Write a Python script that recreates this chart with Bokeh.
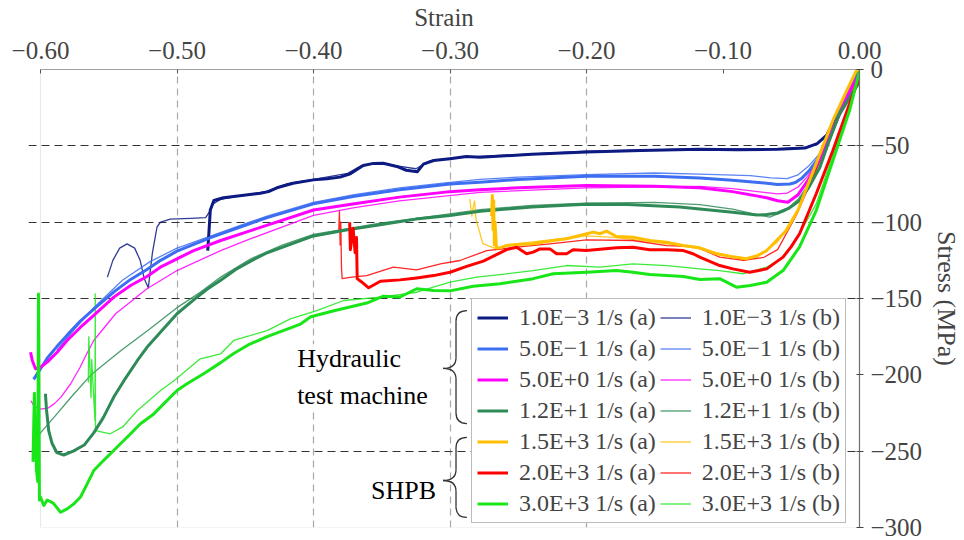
from bokeh.plotting import figure
from bokeh.models import Range1d, FixedTicker, Legend, LegendItem, Label, BoxAnnotation
from bokeh.embed import file_html
from bokeh.resources import INLINE

FONT = "Liberation Serif"

# ---------------- axes ----------------
x_ticks = [-0.6, -0.5, -0.4, -0.3, -0.2, -0.1, 0.0]
x_tick_labels = ["\u22120.60", "\u22120.50", "\u22120.40", "\u22120.30", "\u22120.20", "\u22120.10", "0.00"]
y_ticks = [0, -50, -100, -150, -200, -250, -300]
y_tick_labels = ["0", "\u221250", "\u2212100", "\u2212150", "\u2212200", "\u2212250", "\u2212300"]

# ---------------- data (strain, stress MPa) ----------------
# 1.0E-3 1/s
strain_1e3_a = [0.0, -0.005, -0.015, -0.024, -0.031, -0.04, -0.06, -0.09, -0.117, -0.16, -0.2, -0.24, -0.278, -0.288,
                -0.300, -0.312, -0.3195, -0.324, -0.332, -0.339, -0.349, -0.356, -0.3636, -0.373, -0.3805, -0.39, -0.40,
                -0.415, -0.4268, -0.433, -0.439, -0.4585, -0.466, -0.473, -0.4756, -0.4765, -0.4775]
stress_1e3_a = [-1, -9, -27, -43, -48.5, -51.5, -52.3, -52.5, -52.3, -53, -54, -55.5, -57.5, -57,
                -58.5, -59.6, -62, -67, -66, -63.5, -61.4, -61.5, -62.9, -68.3, -70.5, -71.5, -72.3,
                -74.5, -77.5, -80, -81, -83.2, -84, -85.8, -92, -105, -118.6]
strain_1e3_b = [0.0, -0.005, -0.015, -0.024, -0.031, -0.04, -0.06, -0.117, -0.2, -0.278, -0.30, -0.315, -0.325, -0.34,
                -0.35, -0.365, -0.375, -0.40, -0.42, -0.435, -0.455, -0.468, -0.4735, -0.476, -0.479, -0.49, -0.505,
                -0.512, -0.5146, -0.516, -0.518, -0.52, -0.521, -0.524, -0.527, -0.531, -0.5366, -0.542, -0.547, -0.551]
stress_1e3_b = [-1, -9, -27, -43, -48.5, -51, -52, -52, -53.5, -57, -58, -60, -65, -63,
                -61, -63, -68, -72, -75, -80, -83, -85, -88, -93, -97, -97.5, -98,
                -100, -103, -110, -120, -135, -143, -137, -125, -117, -114.2, -117, -125, -136]
# 5.0E-1 1/s
strain_5e1_a = [0.0, -0.005, -0.012, -0.022, -0.03, -0.0366, -0.042, -0.047, -0.051, -0.06, -0.068, -0.093, -0.117,
                -0.15, -0.2, -0.25, -0.278, -0.30, -0.337, -0.37, -0.40, -0.434, -0.45, -0.475, -0.50, -0.512, -0.522,
                -0.534, -0.546, -0.561, -0.571, -0.58, -0.588, -0.595, -0.6, -0.605]
stress_5e1_a = [-2, -8, -22, -46, -58, -66, -71, -74, -75, -75.3, -74.5, -72.5, -71,
                -70, -70, -72, -73.8, -75, -78.8, -83, -88, -97, -102, -110, -119, -125, -131,
                -137.5, -145.5, -157, -165, -173.5, -181.5, -189, -196, -203]
strain_5e1_b = [0.0, -0.005, -0.012, -0.022, -0.03, -0.037, -0.045, -0.053, -0.065, -0.08, -0.117, -0.15, -0.2,
                -0.25, -0.278, -0.30, -0.337, -0.37, -0.40, -0.434, -0.45, -0.475, -0.50, -0.52, -0.54, -0.561,
                -0.575, -0.588]
stress_5e1_b = [-1, -7, -21, -44, -56, -63, -69, -71.5, -71, -69.5, -68.5, -67.8, -68.8,
                -70.5, -72, -74, -77.5, -82, -87, -96, -101, -109, -117, -126, -138, -156,
                -170, -184]
# 5.0E+0 1/s
strain_5e0_a = [0.0, -0.006, -0.02, -0.03, -0.038, -0.045, -0.0525, -0.06, -0.068, -0.093, -0.117, -0.15, -0.2,
                -0.25, -0.278, -0.30, -0.337, -0.37, -0.40, -0.446, -0.468, -0.4878, -0.5, -0.5122, -0.522, -0.534,
                -0.5463, -0.561, -0.5707, -0.5805, -0.5878, -0.5951, -0.6, -0.6037, -0.606, -0.6073]
stress_5e0_a = [-3, -12, -40, -60, -73, -82, -87, -86, -84, -80, -77.5, -76.5, -76,
                -77.5, -78.8, -80, -83.6, -88, -92, -105.5, -112, -118.6, -124, -129.5, -135.6, -141.5,
                -149.1, -161.1, -168.8, -177.5, -185.2, -191.7, -195, -196, -190.6, -185.2]
strain_5e0_b = [0.0, -0.006, -0.02, -0.03, -0.038, -0.045, -0.053, -0.06, -0.07, -0.093, -0.117, -0.2, -0.278,
                -0.337, -0.37, -0.40, -0.446, -0.468, -0.50, -0.522, -0.545, -0.561, -0.566, -0.571, -0.578, -0.585,
                -0.59, -0.595, -0.601, -0.605, -0.607]
stress_5e0_b = [-2, -11, -40, -58, -70, -77, -81, -81.5, -80.5, -78, -76.5, -77.5, -80.5,
                -86, -90.5, -95.5, -110.8, -118.6, -131.7, -143.6, -160, -177.5, -186, -195, -206, -214.6,
                -219, -222, -222.5, -220, -217]
# 1.2E+1 1/s
strain_12e1_a = [0.0, -0.005, -0.0146, -0.022, -0.029, -0.037, -0.044, -0.052, -0.06, -0.068, -0.075, -0.093,
                 -0.117, -0.1317, -0.17, -0.2, -0.24, -0.278, -0.30, -0.325, -0.35, -0.375, -0.40, -0.42, -0.435,
                 -0.446, -0.457, -0.468, -0.478, -0.488, -0.5, -0.512, -0.522, -0.529, -0.539, -0.546, -0.554,
                 -0.561, -0.568, -0.576, -0.583, -0.588, -0.5915, -0.594, -0.5956, -0.5964]
stress_12e1_a = [-8, -15, -29, -46, -64, -77, -86, -91, -94, -95, -95.3, -93.5,
                 -91.3, -90, -88.5, -88.2, -90, -92.8, -95.6, -98, -101.5, -105, -109, -115.5, -120.5,
                 -125.5, -131, -138, -144, -151, -160, -172, -182, -190.6, -204, -214, -228,
                 -238, -246, -250, -252.5, -251, -245, -236.5, -223, -212.4]
strain_12e1_b = [0.0, -0.005, -0.015, -0.022, -0.03, -0.038, -0.045, -0.055, -0.066, -0.075, -0.093, -0.117,
                 -0.15, -0.2, -0.24, -0.278, -0.30, -0.35, -0.40, -0.423, -0.446, -0.468, -0.483, -0.5, -0.52,
                 -0.541, -0.563, -0.577, -0.590, -0.6, -0.604]
stress_12e1_b = [-9, -16, -31, -46, -62, -76, -85, -93, -96.7, -95, -91.5, -88.5,
                 -87, -87.5, -89, -91.8, -94.5, -100.5, -108, -115, -124, -136, -146, -156, -170,
                 -184, -200, -214, -227.7, -238, -245]
# 1.5E+3 1/s
strain_15e3_a = [0.0, -0.0024, -0.01, -0.0195, -0.028, -0.0366, -0.045, -0.0536, -0.068, -0.075, -0.083, -0.094,
                 -0.1049, -0.1171, -0.1293, -0.1414, -0.1537, -0.1659, -0.178, -0.1853, -0.1902, -0.1951, -0.2049,
                 -0.2146, -0.2244, -0.239, -0.2512, -0.2585, -0.2634, -0.266, -0.267, -0.2675, -0.268, -0.2685,
                 -0.269, -0.2695]
stress_15e3_a = [-1, -1, -15, -33.4, -53, -72.7, -92, -105.5, -118.6, -122, -124, -122.5,
                 -120.7, -116.8, -115.3, -113.1, -112, -109.8, -109.4, -105.9, -107.6, -106.5, -108.7,
                 -110.9, -112, -114.2, -114.6, -115.3, -116.8, -117, -100, -115, -86, -105,
                 -82.5, -96]
strain_15e3_b = [0.0, -0.002, -0.015, -0.03, -0.045, -0.06, -0.075, -0.085, -0.1, -0.12, -0.15, -0.18, -0.2,
                 -0.23, -0.25, -0.266, -0.276, -0.281, -0.282, -0.2835, -0.284, -0.2855]
stress_15e3_b = [-1, -1, -26, -60, -92, -113, -123, -125, -121, -117, -113, -110, -109,
                 -112, -114, -117.5, -114, -98, -86, -92, -96, -84.7]
# 2.0E+3 1/s
strain_2e3_a = [0.0, -0.0073, -0.0195, -0.0317, -0.0439, -0.05, -0.056, -0.068, -0.0805, -0.0927, -0.1024,
                -0.117, -0.122, -0.129, -0.1414, -0.1537, -0.1659, -0.178, -0.2, -0.2098, -0.2146, -0.2219,
                -0.2268, -0.2341, -0.239, -0.2439, -0.2512, -0.2585, -0.2756, -0.2878, -0.30, -0.312, -0.3244,
                -0.3366, -0.351, -0.3596, -0.365, -0.368, -0.3685, -0.3695, -0.371, -0.373, -0.3735]
stress_2e3_a = [-5, -22.5, -53, -81.4, -107.6, -116, -122.9, -130.6, -132.8, -130.6, -128.4,
                -122.9, -120.7, -118.6, -118, -118, -116.4, -116.8, -118.6, -118.1, -120.7, -120.7,
                -117.5, -117.5, -119.6, -120.7, -116.4, -118, -125.5, -129, -132.8, -135, -136.5,
                -137.8, -138.7, -143, -139, -137, -110, -120, -104, -118, -100]
strain_2e3_b = [0.0, -0.008, -0.015, -0.03, -0.046, -0.06, -0.07, -0.085, -0.1024, -0.12, -0.1414, -0.166,
                -0.2, -0.2268, -0.251, -0.273, -0.2927, -0.307, -0.3244, -0.3415, -0.361, -0.372, -0.379,
                -0.3795, -0.380, -0.3805, -0.381, -0.3815]
stress_2e3_b = [-3, -18, -30, -62, -95, -118, -123, -125, -122.9, -116, -115.3, -112,
                -111.6, -114.2, -116.4, -118.6, -125.1, -127.3, -131.2, -129.5, -135, -136, -137,
                -130, -100, -115, -93, -105]
# 3.0E+3 1/s
strain_3e3_a = [0.0, -0.0073, -0.0195, -0.0317, -0.044, -0.056, -0.068, -0.08, -0.0902, -0.1024, -0.117, -0.129,
                -0.1537, -0.166, -0.178, -0.2, -0.2244, -0.239, -0.2634, -0.283, -0.30, -0.312, -0.3244, -0.3366,
                -0.3488, -0.361, -0.385, -0.402, -0.41, -0.434, -0.447, -0.4585, -0.468, -0.4805, -0.4927, -0.5,
                -0.5098, -0.517, -0.5268, -0.534, -0.5464, -0.5537, -0.561, -0.5658, -0.5707, -0.5756, -0.5805,
                -0.5853, -0.5902, -0.5927, -0.5951, -0.5976, -0.6, -0.6008, -0.6015, -0.602, -0.603, -0.6045,
                -0.6055]
stress_3e3_a = [-1, -26.9, -59.6, -92.4, -116.4, -131.7, -139.3, -141.5, -142.6, -137, -137.5, -135.6,
                -134.3, -132.8, -131.7, -132.8, -133.8, -137, -140.4, -142, -145, -144.8, -143.6, -149,
                -148.5, -153, -158, -162, -167, -175, -180, -186, -192, -199.3, -205.9, -210.3,
                -219, -225.6, -232, -238.6, -249.6, -256, -262.7, -271.4, -280, -284.5, -287.8,
                -290, -284.5, -283, -282, -285.6, -280, -282, -147, -270, -262, -212, -257]
strain_3e3_b = [0.0, -0.0073, -0.0195, -0.0317, -0.044, -0.05, -0.056, -0.068, -0.0854, -0.1024, -0.117, -0.141,
                -0.166, -0.19, -0.2146, -0.239, -0.26, -0.2805, -0.30, -0.3244, -0.3488, -0.378, -0.3976, -0.417,
                -0.434, -0.4585, -0.468, -0.483, -0.502, -0.512, -0.529, -0.54, -0.549, -0.5597, -0.5599, -0.5601,
                -0.5625, -0.563, -0.5646, -0.565]
stress_3e3_b = [-1, -24, -56, -88, -107.6, -116, -123, -129.5, -133.8, -131.7, -130.6, -128.5,
                -127.3, -129.5, -128.4, -131.7, -134, -136, -139.3, -145.9, -149, -151.3, -157.9, -163.3,
                -171, -177.5, -186.2, -189.5, -203.7, -210.3, -223.4, -234.3, -238.6, -236.5, -147, -230,
                -190, -215, -175, -205]

rates = ["1.0E\u22123", "5.0E\u22121", "5.0E+0", "1.2E+1", "1.5E+3", "2.0E+3", "3.0E+3"]
colors = ["#0c1a82", "#3d6ef2", "#ff00ff", "#2e8b57", "#ffbf00", "#ff0000", "#19e619"]
series_a = [(strain_1e3_a, stress_1e3_a), (strain_5e1_a, stress_5e1_a), (strain_5e0_a, stress_5e0_a),
            (strain_12e1_a, stress_12e1_a), (strain_15e3_a, stress_15e3_a), (strain_2e3_a, stress_2e3_a),
            (strain_3e3_a, stress_3e3_a)]
series_b = [(strain_1e3_b, stress_1e3_b), (strain_5e1_b, stress_5e1_b), (strain_5e0_b, stress_5e0_b),
            (strain_12e1_b, stress_12e1_b), (strain_15e3_b, stress_15e3_b), (strain_2e3_b, stress_2e3_b),
            (strain_3e3_b, stress_3e3_b)]

# ---------------- figure ----------------
p = figure(width=964, height=540, x_range=Range1d(-0.6088, 0.0), y_range=Range1d(-300, 0),
           x_axis_location="above", y_axis_location="right",
           output_backend="svg", toolbar_location=None,
           min_border_left=28, min_border_right=104, min_border_top=69, min_border_bottom=13)
p.outline_line_color = None
p.background_fill_color = "white"
p.border_fill_color = "white"

p.add_layout(BoxAnnotation(left=-0.6, right=0.0, bottom=-300, top=0, fill_alpha=0,
                           line_color="#b5b5b5", line_width=1.2, level="underlay"))

xa = p.xaxis[0]
xa.ticker = FixedTicker(ticks=x_ticks)
xa.major_label_overrides = dict(zip(x_ticks, x_tick_labels))
xa.bounds = (-0.6, 0.0)
xa.axis_label = "Strain"
xa.axis_label_text_font = FONT
xa.axis_label_text_font_style = "normal"
xa.axis_label_text_font_size = "25px"
xa.axis_label_standoff = 8
xa.major_label_text_font = FONT
xa.major_label_text_font_size = "25px"
xa.major_label_standoff = 11
xa.axis_line_color = "#a0a0a0"
xa.axis_line_width = 1.2
xa.major_tick_in = 4
xa.major_tick_out = 0
xa.major_tick_line_color = "#555555"
xa.minor_tick_line_color = None

ya = p.yaxis[0]
ya.ticker = FixedTicker(ticks=y_ticks)
ya.major_label_overrides = dict(zip(y_ticks, y_tick_labels))
ya.bounds = (-300, 0)
ya.axis_label = "Stress (MPa)"
ya.axis_label_text_font = FONT
ya.axis_label_text_font_style = "normal"
ya.axis_label_text_font_size = "26px"
ya.axis_label_standoff = 7
ya.major_label_text_font = FONT
ya.major_label_text_font_size = "25px"
ya.major_label_standoff = 7
ya.axis_line_color = "#707070"
ya.axis_line_width = 1.2
ya.major_tick_in = 3
ya.major_tick_out = 4
ya.major_tick_line_color = "#444444"
ya.minor_tick_line_color = None

p.xgrid.ticker = FixedTicker(ticks=[-0.5, -0.4, -0.3, -0.2])
p.xgrid.grid_line_color = "#a8a8a8"
p.xgrid.grid_line_dash = "7 5"
p.xgrid.grid_line_width = 1.2
p.ygrid.ticker = FixedTicker(ticks=[-50, -100, -150, -250])
p.ygrid.grid_line_color = "#333333"
p.ygrid.grid_line_dash = "8 5"
p.ygrid.grid_line_width = 1.2
p.ygrid.bounds = (-0.6, 0.0)

# ---------------- curves ----------------
rend_a, rend_b = [], []
for (sx, sy), c in zip(series_b, colors):
    rend_b.append(p.line(sx, sy, line_color=c, line_width=1.3, line_alpha=0.85, line_join="round"))
for (sx, sy), c in zip(series_a, colors):
    rend_a.append(p.line(sx, sy, line_color=c, line_width=3.0, line_join="round"))

items = [LegendItem(label=f"{r} 1/s (a)", renderers=[ra]) for r, ra in zip(rates, rend_a)]
items += [LegendItem(label=f"{r} 1/s (b)", renderers=[rb]) for r, rb in zip(rates, rend_b)]
legend = Legend(items=items, ncols=2, location=(443, 4),
                label_text_font=FONT, label_text_font_size="24px",
                glyph_width=31, glyph_height=25, label_height=25, label_standoff=11,
                spacing=4, padding=5, margin=0,
                border_line_color="#7a7a7a", border_line_width=1.5,
                background_fill_color="white", background_fill_alpha=1.0)
p.add_layout(legend)

# ---------------- annotations ----------------
p.add_layout(Label(x=-0.412, y=-201.4, text="Hydraulic\ntest machine",
                   text_align="left", text_baseline="middle", text_line_height=1.25,
                   text_font=FONT, text_font_size="26px", text_color="black",
                   background_fill_color="white", background_fill_alpha=1.0))
p.add_layout(Label(x=-0.3578, y=-275.8, text="SHPB",
                   text_align="left", text_baseline="middle",
                   text_font=FONT, text_font_size="26px", text_color="black"))

brace_x_tip, brace_x_mid, brace_x_end = -0.3051, -0.2956, -0.2876
r = 7.0


def brace(yt, ym, yb):
    qx0 = [brace_x_end, brace_x_mid, brace_x_tip, brace_x_mid]
    qy0 = [yt, ym + r, ym, yb + r]
    qx1 = [brace_x_mid, brace_x_tip, brace_x_mid, brace_x_end]
    qy1 = [yt - r, ym, ym - r, yb]
    cx = [brace_x_mid] * 4
    cy = [yt, ym, ym, yb]
    p.quadratic(x0=qx0, y0=qy0, x1=qx1, y1=qy1, cx=cx, cy=cy, line_color="#333333", line_width=1.3)
    p.segment(x0=[brace_x_mid, brace_x_mid], y0=[yt - r, ym - r], x1=[brace_x_mid, brace_x_mid],
              y1=[ym + r, yb + r], line_color="#333333", line_width=1.3)


brace(-157.9, -195.8, -231.9)
brace(-241.0, -269.2, -293.4)

open("out.html", "w").write(file_html(p, INLINE))
